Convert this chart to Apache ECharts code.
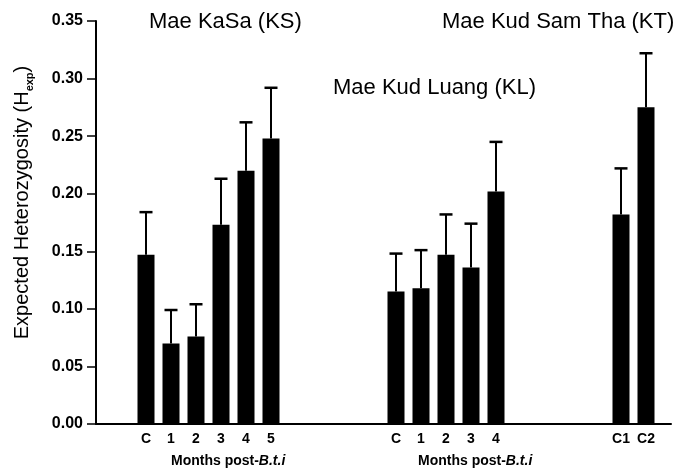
<!DOCTYPE html>
<html><head><meta charset="utf-8">
<script src="https://cdn.jsdelivr.net/npm/echarts@6/dist/echarts.min.js"></script>
<style>html,body{margin:0;padding:0;background:#fff}#c{width:674px;height:474px}</style>
</head><body><div id="c"></div>
<script>
// Mae KaSa (KS)
const ksLabels = ['C', '1', '2', '3', '4', '5'];
const ksValues = [0.147, 0.070, 0.076, 0.173, 0.220, 0.248];
const ksErrors = [0.037, 0.029, 0.028, 0.040, 0.042, 0.044];
// Mae Kud Luang (KL)
const klLabels = ['C', '1', '2', '3', '4'];
const klValues = [0.115, 0.118, 0.147, 0.136, 0.202];
const klErrors = [0.033, 0.033, 0.035, 0.038, 0.043];
// Mae Kud Sam Tha (KT)
const ktLabels = ['C1', 'C2'];
const ktValues = [0.182, 0.275];
const ktErrors = [0.040, 0.047];

const siteTitles = ['Mae KaSa (KS)', 'Mae Kud Luang (KL)', 'Mae Kud Sam Tha (KT)'];
const yName = 'Expected Heterozygosity (H';
const ySub = 'exp';
const xNamePre = 'Months post-';
const xNameItal = 'B.t.i';

const yMin = 0, yMax = 0.35, yStep = 0.05;

// Build category slots (blank slots separate the groups)
function blanks(n) { return new Array(n).fill(''); }
function nulls(n) { return new Array(n).fill(null); }
const categories = [].concat(blanks(2), ksLabels, blanks(4), klLabels, blanks(4), ktLabels, blanks(1));
const barValues = [].concat(nulls(2), ksValues, nulls(4), klValues, nulls(4), ktValues, nulls(1));
const errValues = [].concat(nulls(2), ksErrors, nulls(4), klErrors, nulls(4), ktErrors, nulls(1));
const errData = [];
barValues.forEach((v, i) => { if (v != null) errData.push([i, v, errValues[i]]); });

const font = 'Liberation Sans, Arial, Helvetica, sans-serif';
const titleStyle = { fontFamily: font, fontSize: 22, fontWeight: 'normal', color: '#000' };
const monthsRich = {
  a: { fontFamily: font, fontSize: 14, fontWeight: 'bold', color: '#000' },
  i: { fontFamily: font, fontSize: 14, fontWeight: 'bold', fontStyle: 'italic', color: '#000' }
};
const chart = echarts.init(document.getElementById('c'));
chart.setOption({
  animation: false,
  backgroundColor: '#fff',
  grid: { left: 96, right: 1, top: 21, bottom: 50, containLabel: false },
  title: [
    { text: siteTitles[0], left: 149, top: 11, padding: 0, textStyle: titleStyle },
    { text: siteTitles[1], left: 333, top: 77, padding: 0, textStyle: titleStyle },
    { text: siteTitles[2], left: 442, top: 11, padding: 0, textStyle: titleStyle },
    { text: '{a|' + xNamePre + '}{i|' + xNameItal + '}', left: 171, top: 454, padding: 0, textStyle: { rich: monthsRich } },
    { text: '{a|' + xNamePre + '}{i|' + xNameItal + '}', left: 418, top: 454, padding: 0, textStyle: { rich: monthsRich } }
  ],
  xAxis: {
    type: 'category',
    data: categories,
    boundaryGap: false,
    axisLine: { lineStyle: { color: '#000', width: 2 } },
    axisTick: { show: false },
    axisLabel: { interval: 0, margin: 8, color: '#000', fontFamily: font, fontSize: 14, fontWeight: 'bold' },
    splitLine: { show: false }
  },
  yAxis: {
    type: 'value',
    min: yMin, max: yMax, interval: yStep,
    name: '{a|' + yName + '}{s|' + ySub + '}{a|)}',
    nameLocation: 'middle',
    nameGap: 64,
    nameRotate: 90,
    nameTextStyle: {
      padding: [0, 0, 0, 40],
      rich: {
        a: { fontFamily: font, fontSize: 20, color: '#000', verticalAlign: 'bottom' },
        s: { fontFamily: font, fontSize: 11, fontWeight: 'bold', color: '#000', verticalAlign: 'bottom', padding: [0, 0, -3, 0] }
      }
    },
    axisLine: { show: true, lineStyle: { color: '#000', width: 2 } },
    axisTick: { show: true, inside: false, length: 9, lineStyle: { color: '#000', width: 1.5 } },
    axisLabel: { margin: 13, color: '#000', fontFamily: font, fontSize: 16, fontWeight: 'bold', formatter: v => v.toFixed(2) },
    splitLine: { show: false }
  },
  series: [
    {
      type: 'bar',
      data: barValues,
      barWidth: 17,
      itemStyle: { color: '#000' },
      z: 2
    },
    {
      type: 'custom',
      data: errData,
      encode: { x: 0, y: 1 },
      z: 3,
      renderItem: function (params, api) {
        const idx = api.value(0);
        const v = api.value(1);
        const e = api.value(2);
        const base = api.coord([idx, v]);
        const top = api.coord([idx, v + e]);
        const half = 6.5;
        return {
          type: 'group',
          children: [
            { type: 'line', shape: { x1: base[0], y1: base[1], x2: top[0], y2: top[1] }, style: { stroke: '#000', lineWidth: 2 } },
            { type: 'line', shape: { x1: top[0] - half, y1: top[1], x2: top[0] + half, y2: top[1] }, style: { stroke: '#000', lineWidth: 2.5 } }
          ]
        };
      }
    }
  ]
});
</script></body></html>
